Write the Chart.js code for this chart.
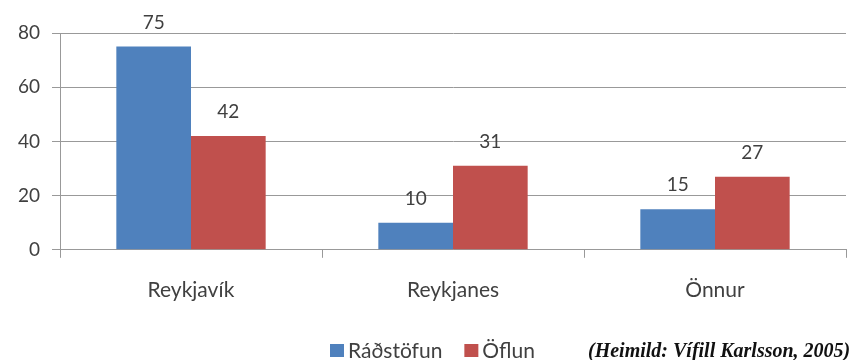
<!DOCTYPE html>
<html>
<head>
<meta charset="utf-8">
<script src="https://cdn.jsdelivr.net/npm/chart.js@4/dist/chart.umd.min.js"></script>
<style>
  html, body { margin: 0; padding: 0; background: #fff; }
  #wrap { position: relative; width: 862px; height: 360px; }
  #source { position: absolute; left: 588px; top: 338px; font-family: "Liberation Serif", serif; font-weight: bold; font-style: italic; font-size: 20px; line-height: 24px; color: #111; white-space: nowrap; }
</style>
</head>
<body>
<div id="wrap">
  <canvas id="c" width="862" height="360"></canvas>
  <div id="source">(Heimild: Vífill Karlsson, 2005)</div>
</div>
<script>
const categories = ["Reykjavík", "Reykjanes", "Önnur"];
const seriesNames = ["Ráðstöfun", "Öflun"];
const radstofun = [75, 10, 15];
const oflun = [42, 31, 27];
const yMax = 80;
const yStep = 20;

const FONT = "Lato, 'Open Sans', sans-serif";
const TXT = "#404040";

const barLabels = {
  id: 'barLabels',
  afterDatasetsDraw(chart) {
    const ctx = chart.ctx;
    ctx.save();
    ctx.font = "19px " + FONT;
    ctx.fillStyle = TXT;
    ctx.textAlign = 'center';
    ctx.textBaseline = 'middle';
    chart.data.datasets.forEach((ds, i) => {
      chart.getDatasetMeta(i).data.forEach((bar, j) => {
        ctx.fillText(String(ds.data[j]), bar.x, bar.y - 24);
      });
    });
    ctx.restore();
  }
};

const customLegend = {
  id: 'customLegend',
  afterDraw(chart) {
    const ctx = chart.ctx;
    ctx.save();
    ctx.font = "21px " + FONT;
    ctx.textBaseline = 'middle';
    ctx.textAlign = 'left';
    const y = 351;
    let x = 330;
    chart.data.datasets.forEach((ds) => {
      ctx.fillStyle = ds.backgroundColor;
      ctx.fillRect(x, y - 7, 14, 13);
      ctx.fillStyle = TXT;
      ctx.fillText(ds.label, x + 18, y);
      x += 18 + ctx.measureText(ds.label).width + 22;
    });
    ctx.restore();
  }
};

new Chart(document.getElementById('c'), {
  type: 'bar',
  data: {
    labels: categories,
    datasets: [
      { label: seriesNames[0], data: radstofun, backgroundColor: '#4F81BD', categoryPercentage: 0.57, barPercentage: 1.0 },
      { label: seriesNames[1], data: oflun, backgroundColor: '#C0504D', categoryPercentage: 0.57, barPercentage: 1.0 }
    ]
  },
  options: {
    responsive: false,
    animation: false,
    layout: { padding: { left: 0, right: 16, top: 33, bottom: 37 } },
    plugins: { legend: { display: false }, tooltip: { enabled: false } },
    scales: {
      x: {
        grid: { display: true, drawOnChartArea: false, drawTicks: true, tickLength: 8, color: '#999' },
        border: { display: true, color: '#999', width: 1 },
        ticks: { font: { family: FONT, size: 21 }, color: TXT, padding: 20 }
      },
      y: {
        min: 0, max: yMax,
        afterFit(scale) { scale.width = 60; },
        grid: { color: '#999', tickLength: 8, lineWidth: 1 },
        border: { display: true, color: '#999' },
        ticks: { stepSize: yStep, font: { family: FONT, size: 19 }, color: TXT, padding: 12 }
      }
    }
  },
  plugins: [barLabels, customLegend]
});
</script>
</body>
</html>
